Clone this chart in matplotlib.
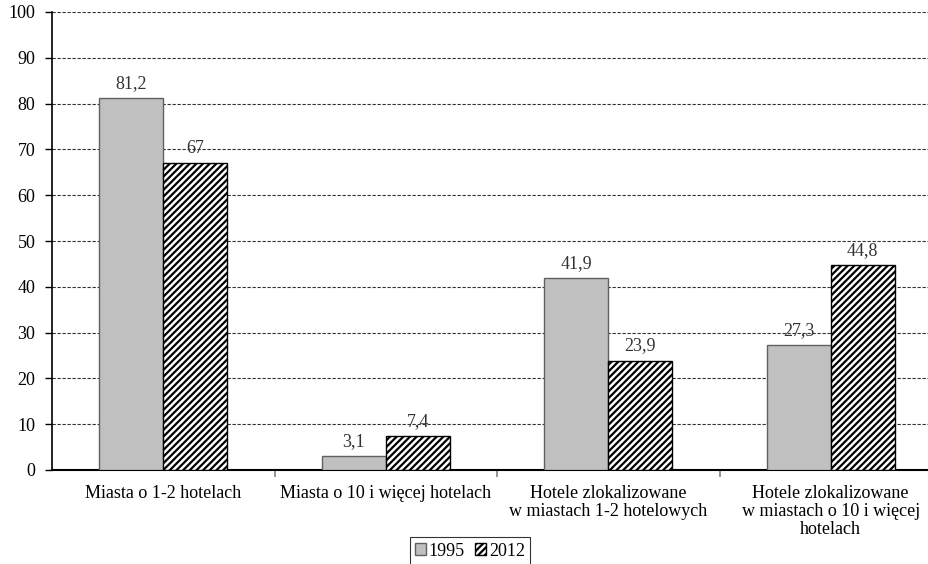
import matplotlib
matplotlib.use("Agg")
import matplotlib.pyplot as plt
import numpy as np

categories = ["Miasta o 1-2 hotelach", "Miasta o 10 i więcej hotelach",
              "Hotele zlokalizowane\nw miastach 1-2 hotelowych",
              "Hotele zlokalizowane\nw miastach o 10 i więcej\nhotelach"]
v1995 = [81.2, 3.1, 41.9, 27.3]
v2012 = [67, 7.4, 23.9, 44.8]
labels1995 = ["81,2", "3,1", "41,9", "27,3"]
labels2012 = ["67", "7,4", "23,9", "44,8"]

plt.rcParams['font.family'] = ['Liberation Serif', 'DejaVu Serif']
plt.rcParams['hatch.linewidth'] = 1.6
fs = 13

fig = plt.figure(figsize=(9.29, 5.64), dpi=100)
left = 52/929
right = 942/929
bottom = 1 - 470/564
top = 1 - 12/564
ax = fig.add_axes([left, bottom, right - left, top - bottom])

x = np.arange(len(categories))
w = 0.288
b1 = ax.bar(x - w/2, v1995, w, color='#c0c0c0', edgecolor='#606060', linewidth=1, label='1995', zorder=3)
b2 = ax.bar(x + w/2, v2012, w, color='white', edgecolor='black', hatch='/////', linewidth=1, label='2012', zorder=3)

for xi, v, l in zip(x - w/2, v1995, labels1995):
    ax.text(xi, v + 1.3, l, ha='center', va='bottom', fontsize=fs, color='#333333')
for xi, v, l in zip(x + w/2, v2012, labels2012):
    ax.text(xi, v + 1.3, l, ha='center', va='bottom', fontsize=fs, color='#333333')

ax.set_xlim(-0.5, 3.5)
ax.set_ylim(0, 100)
ax.set_yticks(range(0, 101, 10))
ax.yaxis.grid(True, linestyle=(0, (3, 1.5)), color='#333333', linewidth=0.8, zorder=0)
ax.set_axisbelow(True)
ax.set_xticks(x)
ax.set_xticklabels(categories, fontsize=fs, linespacing=1.05)
ax.tick_params(axis='x', length=0, pad=11)
ax.set_xticks([0.5, 1.5, 2.5], minor=True)
ax.tick_params(axis='x', which='minor', length=5, width=1.2, color='#808080', direction='out')
ax.tick_params(axis='y', length=5, width=1, direction='out', labelsize=fs, pad=7)
for s in ['top', 'right']:
    ax.spines[s].set_visible(False)
ax.spines['left'].set_linewidth(1.2)
ax.spines['bottom'].set_linewidth(1.5)

leg = fig.legend(handles=[b1, b2], labels=['1995', '2012'], loc='center',
                 bbox_to_anchor=(470/929, 1 - 551/564), ncol=2, frameon=True,
                 fancybox=False, edgecolor='black', handlelength=0.6, handleheight=0.6,
                 handletextpad=0.15, columnspacing=0.6, fontsize=fs, borderpad=0.3)
leg.get_frame().set_linewidth(0.8)

fig.savefig('out.png', dpi=100)
